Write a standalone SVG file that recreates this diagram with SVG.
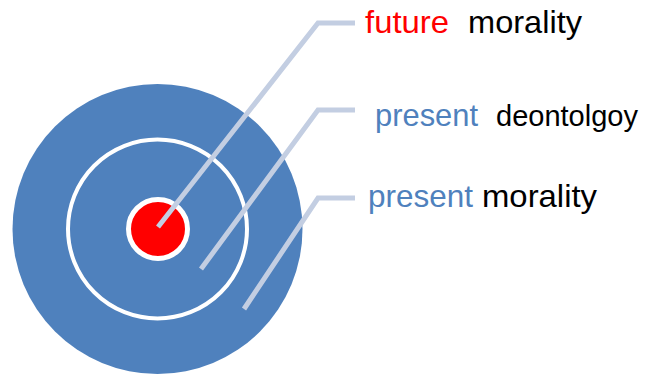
<svg xmlns="http://www.w3.org/2000/svg" width="647" height="376" viewBox="0 0 647 376">
<style>
.lbl{font-family:"Liberation Sans",Arial,sans-serif;font-size:32px}
.red{fill:#FF0000}.blu{fill:#4F81BD}.blk{fill:#000000}
.conn{fill:none;stroke:#C3CEE2;stroke-width:5;stroke-linejoin:miter}
</style>
<rect width="647" height="376" fill="#ffffff"/>
<g id="outer"><circle cx="157.5" cy="229" r="145" fill="#4F81BD"/></g>
<g id="middle"><circle cx="157.5" cy="229" r="89.5" fill="none" stroke="#ffffff" stroke-width="4"/></g>
<g id="core"><circle cx="158" cy="229" r="29.5" fill="#FF0000" stroke="#ffffff" stroke-width="5"/></g>
<g id="connectors">
<polyline class="conn" points="158,227 318,23 355,23"/>
<polyline class="conn" points="201,269 318,110 355,110"/>
<polyline class="conn" points="244,309 318,198 355,198"/>
</g>
<g id="label-future">
<text class="lbl" y="33"><tspan class="red" x="365" textLength="84" lengthAdjust="spacingAndGlyphs">future</tspan><tspan class="blk" x="468" textLength="114" lengthAdjust="spacingAndGlyphs">morality</tspan></text>
</g>
<g id="label-deontology">
<text class="lbl" y="126"><tspan class="blu" x="375" textLength="103" lengthAdjust="spacingAndGlyphs">present</tspan><tspan class="blk" x="496" font-size="30" textLength="142" lengthAdjust="spacingAndGlyphs">deontolgoy</tspan></text>
</g>
<g id="label-morality">
<text class="lbl" y="207"><tspan class="blu" x="368" textLength="105" lengthAdjust="spacingAndGlyphs">present</tspan><tspan class="blk" x="482" textLength="115" lengthAdjust="spacingAndGlyphs">morality</tspan></text>
</g>
</svg>
